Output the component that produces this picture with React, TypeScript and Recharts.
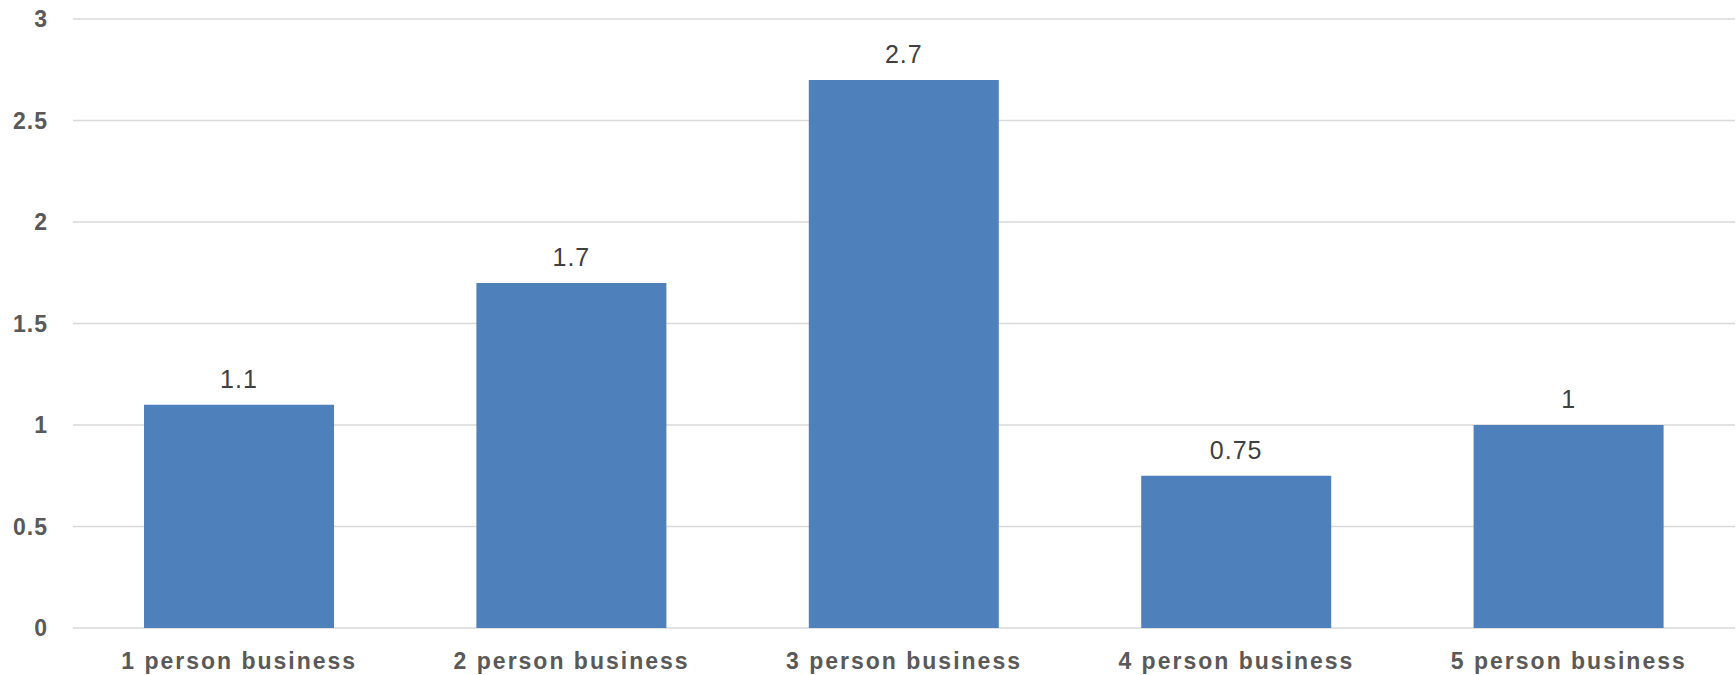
import { BarChart, Bar, XAxis, YAxis, CartesianGrid, LabelList } from 'recharts';

const categories = ['1 person business', '2 person business', '3 person business', '4 person business', '5 person business'];
const values = [1.1, 1.7, 2.7, 0.75, 1];
const yTicks = [0, 0.5, 1, 1.5, 2, 2.5, 3];

const data = categories.map((name, i) => ({ name, value: values[i] }));

const font = '"Liberation Sans", Arial, Helvetica, sans-serif';

export default function App() {
  return (
    <div style={{ position: 'absolute', left: 0, top: 0, width: 1736, height: 675, background: '#fff' }}>
      <BarChart width={1736} height={675} data={data} margin={{ top: 19, right: 1, bottom: 0, left: 0 }} barSize={190}>
        <CartesianGrid vertical={false} stroke="#d9d9d9" strokeWidth={1.5} />
        <XAxis
          dataKey="name"
          axisLine={false}
          tickLine={false}
          tickMargin={19}
          height={47}
          interval={0}
          tick={{ fontSize: 23, fontWeight: 'bold', fill: '#595959', fontFamily: font, letterSpacing: 2 }}
        />
        <YAxis
          type="number"
          domain={[0, 3]}
          ticks={yTicks}
          width={73}
          axisLine={false}
          tickLine={false}
          tickMargin={19}
          tick={{ fontSize: 23, fontWeight: 'bold', fill: '#595959', fontFamily: font, letterSpacing: 1 }}
        />
        <Bar dataKey="value" fill="#4e80bc" isAnimationActive={false}>
          <LabelList
            dataKey="value"
            position="top"
            offset={17}
            style={{ fontSize: 25, fill: '#404040', fontFamily: font, letterSpacing: 1 }}
          />
        </Bar>
      </BarChart>
    </div>
  );
}
